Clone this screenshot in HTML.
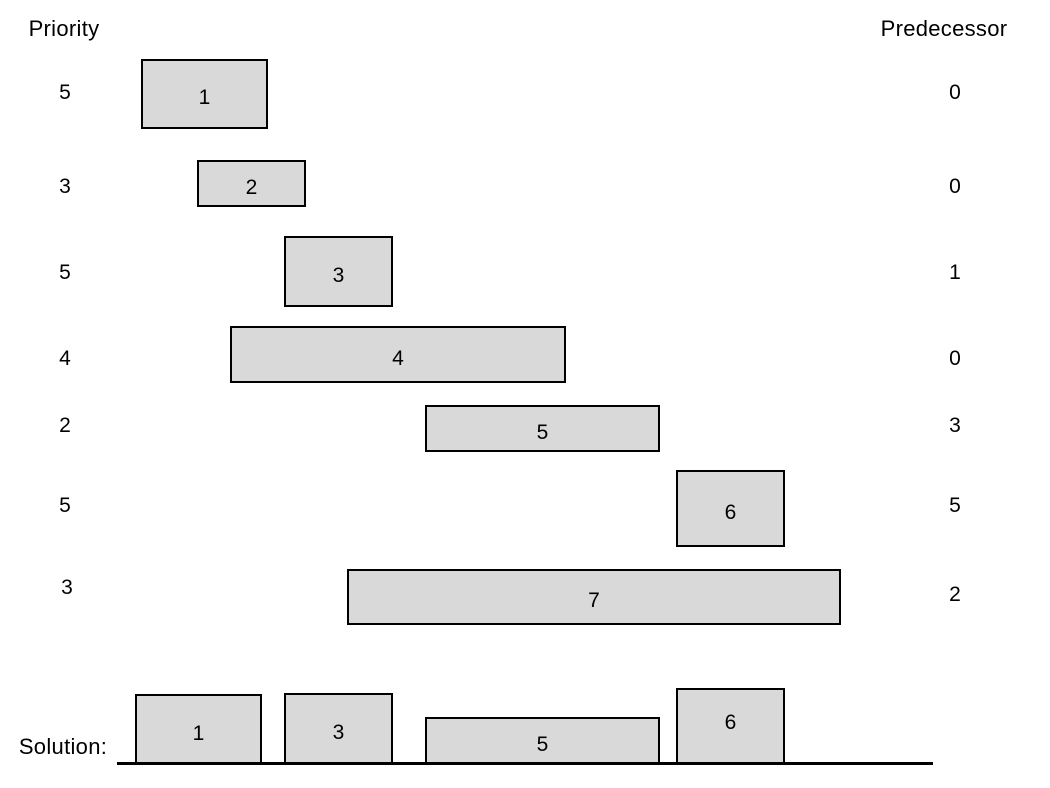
<!DOCTYPE html>
<html><head><meta charset="utf-8"><style>
body{margin:0;width:1050px;height:788px;background:#fff;position:relative;overflow:hidden;font-family:"Liberation Sans",sans-serif;font-size:21px;color:#000}
.b{position:absolute;background:#d9d9d9;border:2px solid #000;box-sizing:border-box;display:flex;align-items:center;justify-content:center;padding-top:8px}
.t{position:absolute;transform:translate(-50%,-50%);white-space:nowrap;margin-top:2px}
.h{font-size:22px;letter-spacing:0.3px}
</style></head><body>
<div class="t h" style="left:64px;top:27px">Priority</div>
<div class="t h" style="left:944px;top:27px">Predecessor</div>

<div class="t" style="left:65px;top:91px">5</div>
<div class="t" style="left:65px;top:185px">3</div>
<div class="t" style="left:65px;top:271px">5</div>
<div class="t" style="left:65px;top:357px">4</div>
<div class="t" style="left:65px;top:424px">2</div>
<div class="t" style="left:65px;top:504px">5</div>
<div class="t" style="left:67px;top:586px">3</div>

<div class="t" style="left:955px;top:91px">0</div>
<div class="t" style="left:955px;top:185px">0</div>
<div class="t" style="left:955px;top:271px">1</div>
<div class="t" style="left:955px;top:357px">0</div>
<div class="t" style="left:955px;top:424px">3</div>
<div class="t" style="left:955px;top:504px">5</div>
<div class="t" style="left:955px;top:593px">2</div>

<div class="b" style="left:141px;top:59px;width:127px;height:70px">1</div>
<div class="b" style="left:197px;top:160px;width:109px;height:47px">2</div>
<div class="b" style="left:284px;top:236px;width:109px;height:71px">3</div>
<div class="b" style="left:230px;top:326px;width:336px;height:57px">4</div>
<div class="b" style="left:425px;top:405px;width:235px;height:47px">5</div>
<div class="b" style="left:676px;top:470px;width:109px;height:77px">6</div>
<div class="b" style="left:347px;top:569px;width:494px;height:56px">7</div>

<div class="b" style="left:135px;top:694px;width:127px;height:71px">1</div>
<div class="b" style="left:284px;top:693px;width:109px;height:72px">3</div>
<div class="b" style="left:425px;top:717px;width:235px;height:48px">5</div>
<div class="b" style="left:676px;top:688px;width:109px;height:77px;padding-top:0;padding-bottom:8px">6</div>

<div class="t h" style="left:63px;top:745px">Solution:</div>
<div style="position:absolute;left:117px;top:762px;width:816px;height:3px;background:#000"></div>
</body></html>
